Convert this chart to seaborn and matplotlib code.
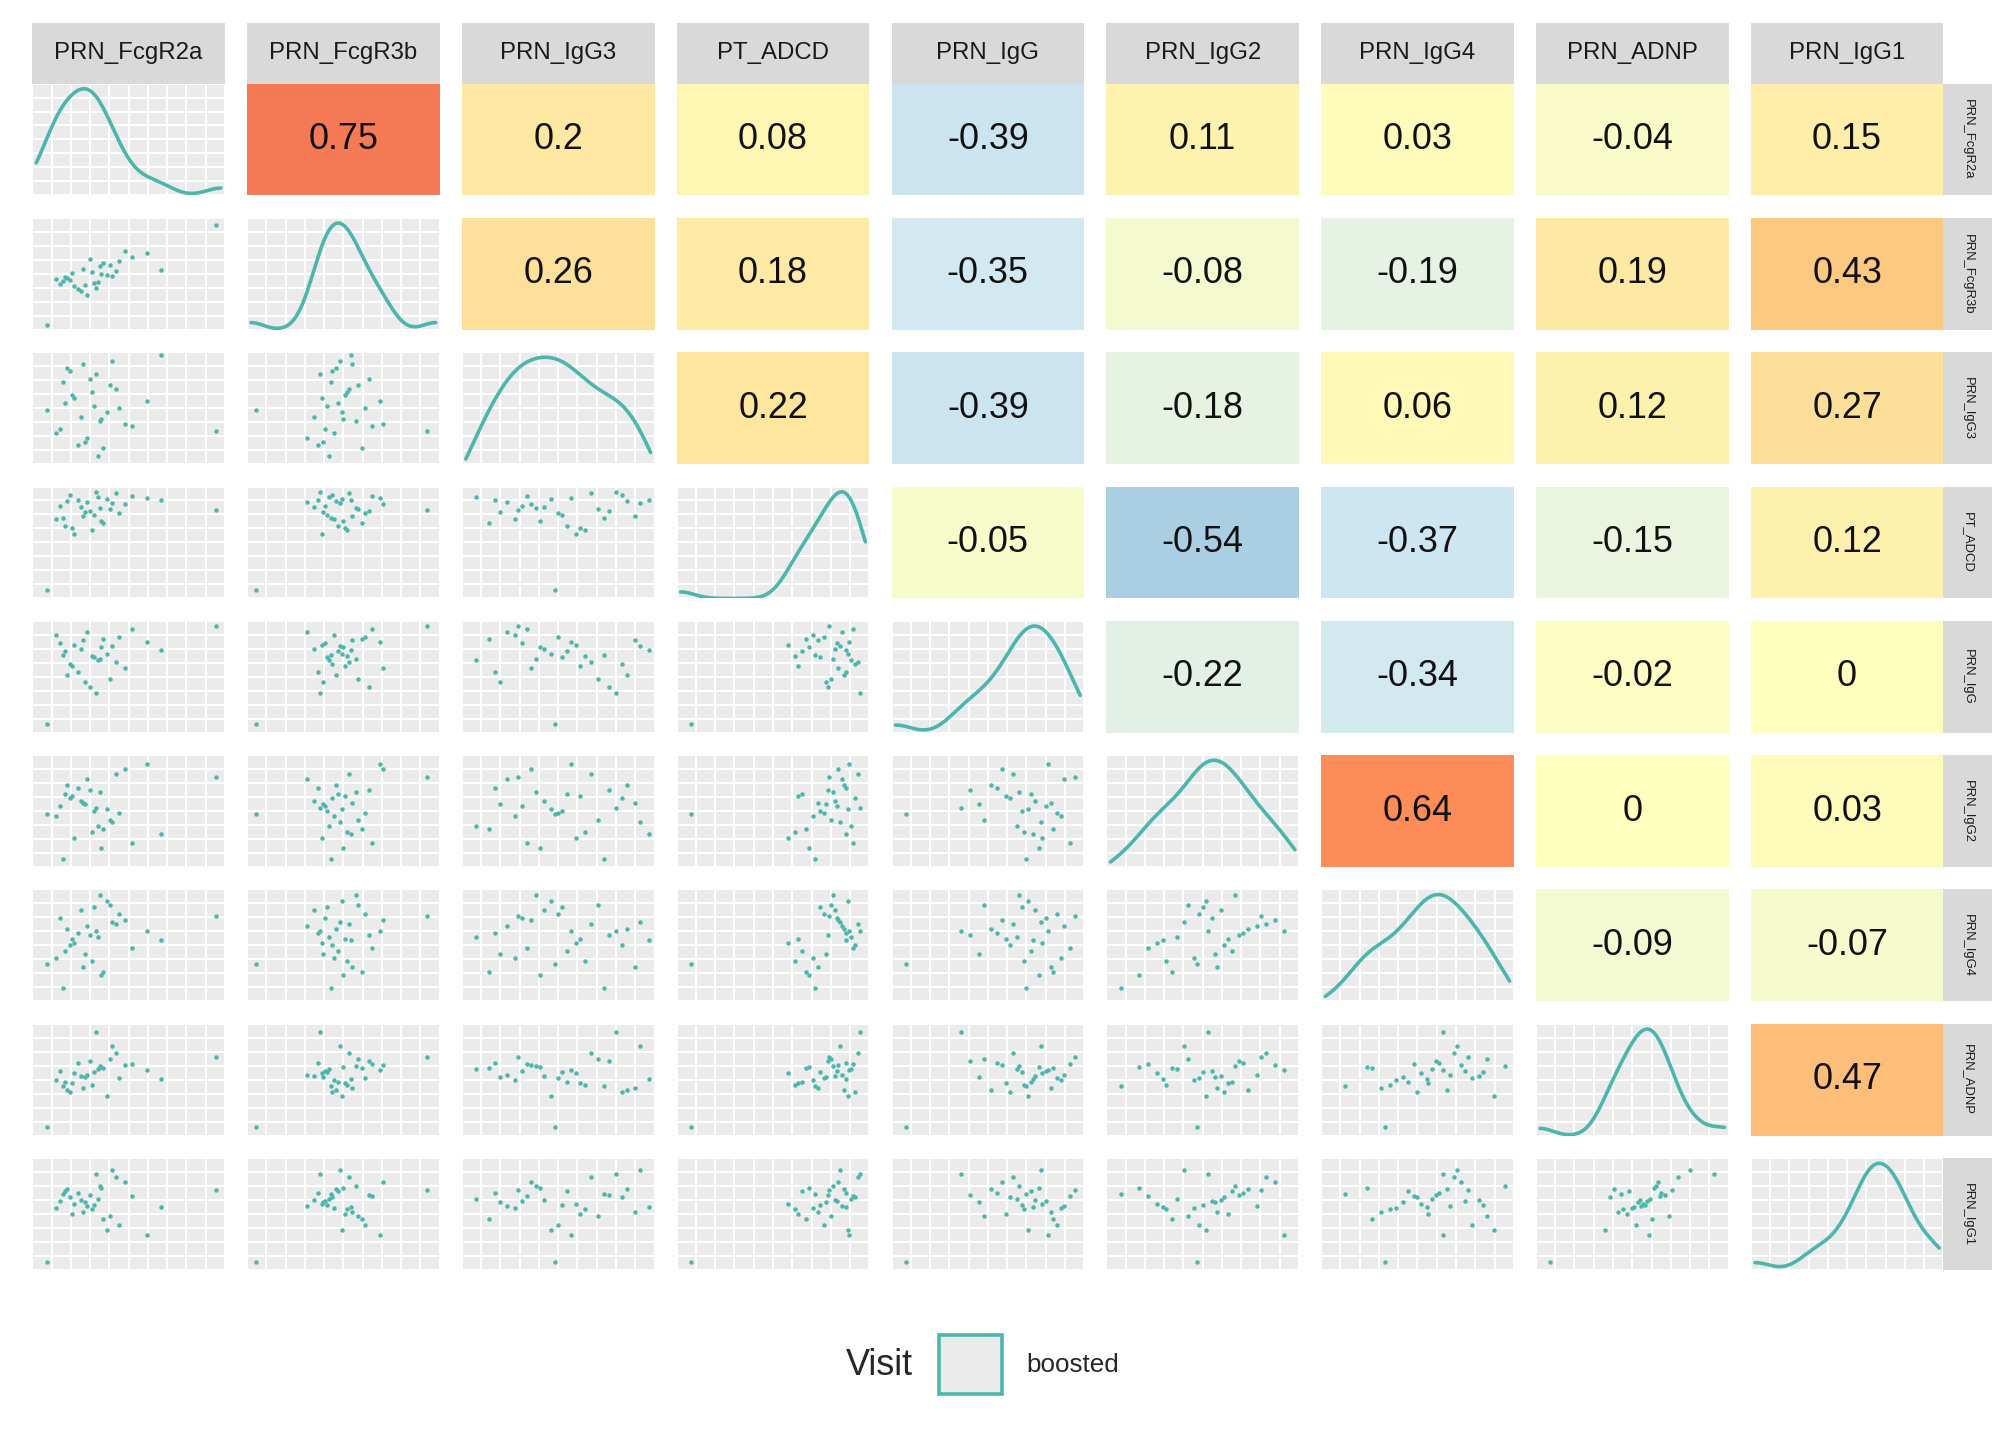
import matplotlib.pyplot as plt
import matplotlib.colors as mcolors
from matplotlib.patches import Rectangle
import seaborn as sns
import numpy as np
import pandas as pd

sns.set_style("white")
plt.rcParams["font.family"] = ["Liberation Sans", "DejaVu Sans"]

variables = ["PRN_FcgR2a", "PRN_FcgR3b", "PRN_IgG3", "PT_ADCD", "PRN_IgG",
             "PRN_IgG2", "PRN_IgG4", "PRN_ADNP", "PRN_IgG1"]

# correlations shown in the upper triangle (row i, col j, j > i)
corr_upper = [
    [0.75, 0.2, 0.08, -0.39, 0.11, 0.03, -0.04, 0.15],
    [0.26, 0.18, -0.35, -0.08, -0.19, 0.19, 0.43],
    [0.22, -0.39, -0.18, 0.06, 0.12, 0.27],
    [-0.05, -0.54, -0.37, -0.15, 0.12],
    [-0.22, -0.34, -0.02, 0],
    [0.64, 0, 0.03],
    [-0.09, -0.07],
    [0.47],
]

# per-subject values
PRN_FcgR2a = [0.12, 0.30, 0.22, 0.45, 0.18, 0.35, 0.27, 0.40, 0.15, 0.33, 0.25, 0.48, 0.20, 0.38,
              0.29, 0.10, 0.43, 0.24, 0.36, 0.16, 0.31, 0.52, 0.19, 0.41, 0.26, 0.60, 0.14, 0.34,
              0.05, 0.68, 0.98, 0.32]
PRN_FcgR3b = [0.40, 0.52, 0.36, 0.62, 0.44, 0.50, 0.30, 0.58, 0.47, 0.42, 0.55, 0.72, 0.38, 0.49,
              0.64, 0.45, 0.53, 0.34, 0.60, 0.46, 0.41, 0.66, 0.51, 0.48, 0.39, 0.70, 0.43, 0.57,
              0.02, 0.54, 0.96, 0.37]
PRN_IgG3 = [0.30, 0.65, 0.15, 0.50, 0.85, 0.40, 0.22, 0.72, 0.55, 0.05, 0.92, 0.35, 0.60, 0.46,
            0.78, 0.26, 0.68, 0.42, 0.12, 0.88, 0.52, 0.33, 0.62, 0.95, 0.18, 0.57, 0.75, 0.38,
            0.48, 1.00, 0.28, 0.82]
PT_ADCD = [0.85, 0.62, 0.90, 0.78, 0.95, 0.70, 0.88, 0.82, 0.66, 0.93, 0.75, 0.86, 0.58, 0.91,
           0.80, 0.72, 0.97, 0.84, 0.68, 0.89, 0.76, 0.94, 0.64, 0.87, 0.79, 0.92, 0.73, 0.83,
           0.05, 0.90, 0.81, 0.98]
PRN_IgG = [0.82, 0.70, 0.55, 0.88, 0.62, 0.78, 0.92, 0.48, 0.74, 0.66, 0.85, 0.58, 0.80, 0.72,
           0.40, 0.90, 0.64, 0.76, 0.86, 0.52, 0.69, 0.95, 0.60, 0.79, 0.45, 0.83, 0.71, 0.67,
           0.05, 0.75, 0.98, 0.35]
PRN_IgG2 = [0.55, 0.30, 0.72, 0.48, 0.62, 0.15, 0.80, 0.42, 0.66, 0.36, 0.58, 0.90, 0.25, 0.52,
            0.70, 0.45, 0.85, 0.60, 0.33, 0.75, 0.50, 0.20, 0.64, 0.40, 0.57, 0.95, 0.05, 0.68,
            0.47, 0.28, 0.82, 0.53]
PRN_IgG4 = [0.76, 0.35, 0.62, 0.80, 0.50, 0.22, 0.68, 0.88, 0.45, 0.58, 0.30, 0.74, 0.52, 0.92,
            0.60, 0.38, 0.70, 0.84, 0.25, 0.66, 0.86, 0.48, 0.56, 0.72, 0.42, 0.64, 0.10, 0.98,
            0.32, 0.55, 0.78, 0.64]
PRN_ADNP = [0.58, 0.45, 0.66, 0.52, 0.38, 0.62, 0.55, 0.70, 0.48, 0.60, 0.42, 0.64, 0.56, 0.35,
            0.68, 0.50, 0.75, 0.54, 0.61, 0.40, 0.57, 0.65, 0.47, 0.82, 0.53, 0.59, 0.44, 0.63,
            0.05, 0.51, 0.72, 0.95]
PRN_IgG1 = [0.62, 0.55, 0.70, 0.40, 0.66, 0.75, 0.58, 0.48, 0.72, 0.64, 0.52, 0.80, 0.60, 0.35,
            0.68, 0.56, 0.85, 0.63, 0.45, 0.74, 0.59, 0.67, 0.50, 0.92, 0.61, 0.30, 0.69, 0.77,
            0.05, 0.57, 0.73, 0.88]

df = pd.DataFrame({
    "PRN_FcgR2a": PRN_FcgR2a, "PRN_FcgR3b": PRN_FcgR3b, "PRN_IgG3": PRN_IgG3,
    "PT_ADCD": PT_ADCD, "PRN_IgG": PRN_IgG, "PRN_IgG2": PRN_IgG2, "PRN_IgG4": PRN_IgG4,
    "PRN_ADNP": PRN_ADNP, "PRN_IgG1": PRN_IgG1,
})

teal = "#4DB6AC"
cmap = mcolors.LinearSegmentedColormap.from_list("corr", [
    (0.0, "#4575B4"), (0.23, "#ABD0E4"), (0.32, "#D1E8F2"), (0.42, "#EAF4E0"),
    (0.5, "#FFFFBF"), (0.61, "#FEE6A0"), (0.72, "#FDC880"), (0.82, "#FC8D59"),
    (0.875, "#F47C55"), (1.0, "#D73027")])
norm = mcolors.Normalize(vmin=-1, vmax=1)
n = len(variables)

fig = plt.figure(figsize=(14, 10), dpi=144)
gs = fig.add_gridspec(n, n, left=0.016, right=0.964, top=0.942, bottom=0.118,
                      wspace=0.115, hspace=0.2)


def gray_panel(ax):
    ax.set_facecolor("#EBEBEB")
    ax.grid(True, color="white", linewidth=1.0)
    ax.set_axisbelow(True)


for i in range(n):
    for j in range(n):
        ax = fig.add_subplot(gs[i, j])
        for s in ax.spines.values():
            s.set_visible(False)
        if i == j:
            gray_panel(ax)
            sns.kdeplot(x=df[variables[j]], ax=ax, color=teal, linewidth=1.8, bw_adjust=0.8,
                        cut=0)
            lo, hi = df[variables[j]].min() - 0.02, df[variables[j]].max() + 0.02
            ax.set_xlim(lo, hi)
            y0, y1 = ax.get_ylim()
            ax.set_ylim(y0, y1)
            ax.set_xticks(np.linspace(lo, hi, 11))
            ax.set_yticks(np.linspace(y0, y1, 9))
        elif i > j:
            gray_panel(ax)
            sns.scatterplot(x=df[variables[j]], y=df[variables[i]], ax=ax, color=teal, s=5,
                            linewidth=0)
            ax.set_xlim(-0.03, 1.03)
            ax.set_ylim(-0.03, 1.03)
            ax.set_xticks(np.linspace(-0.03, 1.03, 11))
            ax.set_yticks(np.linspace(-0.03, 1.03, 9))
        else:
            v = corr_upper[i][j - i - 1]
            ax.set_facecolor(cmap(norm(v)))
            ax.text(0.5, 0.5, f"{v:g}", ha="center", va="center", fontsize=18,
                    color="#111111", transform=ax.transAxes)
        ax.set_xlabel("")
        ax.set_ylabel("")
        ax.tick_params(length=0, labelbottom=False, labelleft=False)
        if i == 0:
            st = ax.inset_axes([0, 1.0, 1, 0.54])
            st.set_facecolor("#D9D9D9")
            st.set_xticks([]); st.set_yticks([])
            for s in st.spines.values():
                s.set_visible(False)
            st.text(0.5, 0.5, variables[j], ha="center", va="center", fontsize=12,
                    color="#1A1A1A", transform=st.transAxes)
        if j == n - 1:
            st = ax.inset_axes([1.0, 0, 0.25, 1])
            st.set_facecolor("#D9D9D9")
            st.set_xticks([]); st.set_yticks([])
            for s in st.spines.values():
                s.set_visible(False)
            st.text(0.5, 0.5, variables[i], ha="center", va="center", fontsize=6.5,
                    rotation=-90, color="#1A1A1A", transform=st.transAxes)

# legend
fig.text(0.453, 0.052, "Visit", ha="right", va="center", fontsize=18)
fig.patches.append(Rectangle((0.466, 0.032), 0.031, 0.041, transform=fig.transFigure,
                             facecolor="#EBEBEB", edgecolor=teal, linewidth=1.8))
fig.text(0.509, 0.052, "boosted", ha="left", va="center", fontsize=13)

fig.savefig("out.png", dpi=144)
